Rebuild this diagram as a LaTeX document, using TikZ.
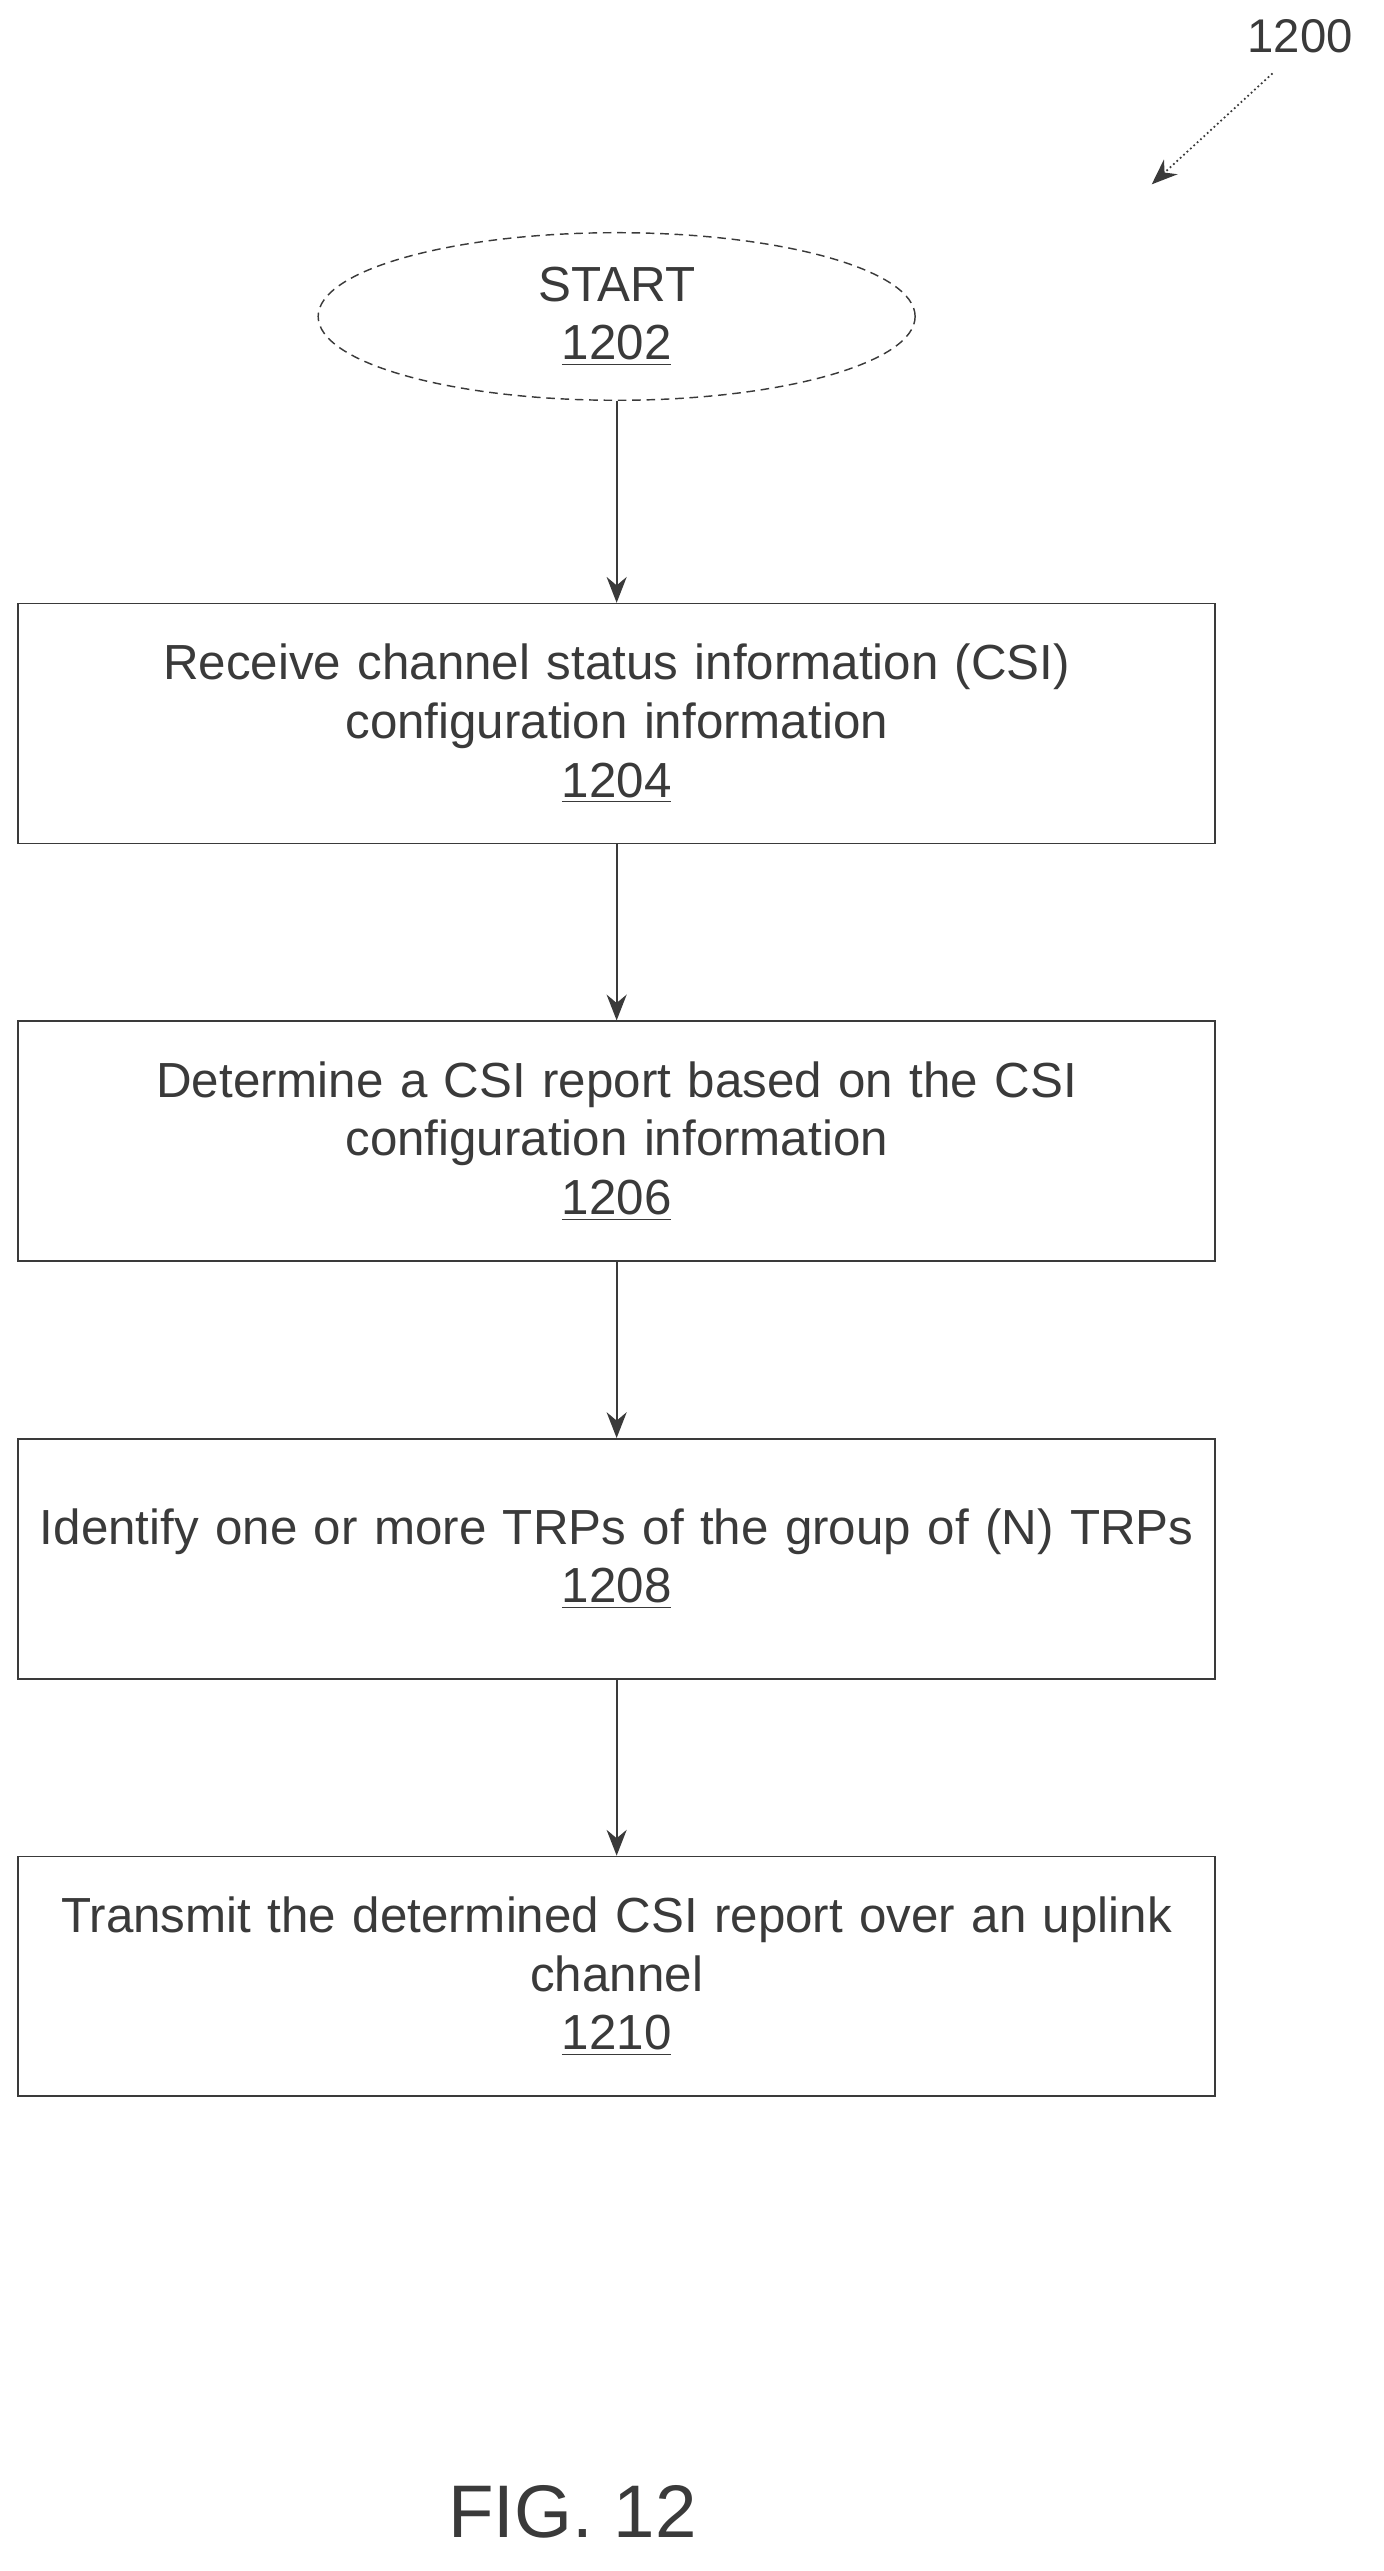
\documentclass[tikz,border=0pt]{standalone}
\usepackage{fontspec}
\setmainfont{Liberation Sans}
\usetikzlibrary{shapes.geometric,arrows.meta,positioning}
\definecolor{ink}{HTML}{3A3A3A}
\tikzset{
  procbox/.style={draw=ink,line width=0.6pt,minimum width=14.68cm,minimum height=2.94cm,
    align=center,text=ink,font=\fontsize{17.2}{20.5}\selectfont,text width=14.3cm},
  flow/.style={draw=ink,line width=0.6pt,-{Stealth[length=9pt,width=7pt]}}
}
\begin{document}
\begin{tikzpicture}[x=0.02cm,y=-0.02cm]
    \useasboundingbox[fill=white] (0,0) rectangle (848,1576);
    \node[font=\fontsize{16.5}{19}\selectfont,text=ink] (lbl) at (797,22) {1200};
    \coordinate (tip) at (706,113);
    \draw[flow,densely dotted] (780,45) -- (tip);
    \node[ellipse,draw=ink,densely dashed,line width=0.5pt,minimum width=7.32cm,minimum height=1.68cm,
      align=center,text=ink,font=\fontsize{17.2}{20.5}\selectfont] (start) at (378,194) {START\\\underline{1202}};
    \node[procbox] (s1204) at (378,443.5) {Receive channel status information (CSI)\\configuration information\\\underline{1204}};
    \node[procbox] (s1206) at (378,699.5) {Determine a CSI report based on the CSI\\configuration information\\\underline{1206}};
    \node[procbox] (s1208) at (378,955.5) {Identify one or more TRPs of the group of (N) TRPs\\\underline{1208}};
    \node[procbox] (s1210) at (378,1211.5) {Transmit the determined CSI report over an uplink\\channel\\\underline{1210}};
    \draw[flow] (start) -- (s1204);
    \draw[flow] (s1204) -- (s1206);
    \draw[flow] (s1206) -- (s1208);
    \draw[flow] (s1208) -- (s1210);
    \node[font=\fontsize{26}{31}\selectfont,text=ink] (fig) at (351,1540) {FIG. 12};
\end{tikzpicture}
\end{document}
